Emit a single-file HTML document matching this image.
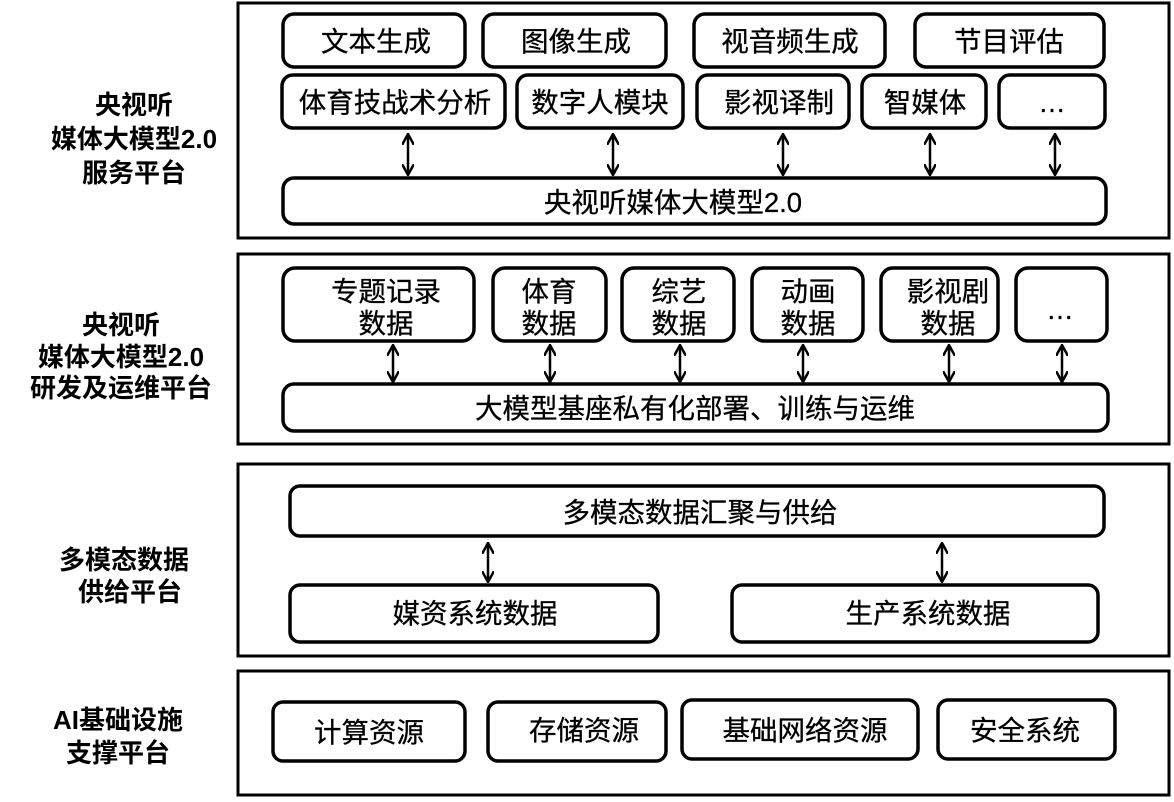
<!DOCTYPE html>
<html><head><meta charset="utf-8"><style>
html,body{margin:0;padding:0;background:#fff;}
text{font-family:"Liberation Sans","Noto Sans CJK SC",sans-serif;fill:#000;}
.b{font-weight:bold;font-size:26px;}
.t{font-size:27.5px;stroke:#000;stroke-width:0.3px;}
</style></head><body>
<svg width="1174" height="797" viewBox="0 0 1174 797" xmlns="http://www.w3.org/2000/svg">
<defs>
<marker id="a" viewBox="0 0 12 12" refX="11" refY="6" markerWidth="12" markerHeight="12" orient="auto-start-reverse" markerUnits="userSpaceOnUse">
<path d="M0,0 L11,6 L0,12" fill="none" stroke="#000" stroke-width="2.5"/>
</marker>
</defs>
<g fill="none" stroke="#000" stroke-width="3">
<rect x="238" y="3" width="931" height="235"/>
<rect x="238" y="254" width="931" height="190"/>
<rect x="238" y="464" width="931" height="192"/>
<rect x="238" y="671" width="931" height="124"/>
</g>
<g fill="#fff" stroke="#000" stroke-width="3.5">
<rect x="283" y="14" width="182" height="53" rx="11"/>
<rect x="483" y="14" width="183" height="53" rx="11"/>
<rect x="694" y="14" width="191" height="53" rx="11"/>
<rect x="915" y="14" width="189" height="53" rx="11"/>
<rect x="282" y="75" width="223" height="53" rx="11"/>
<rect x="517" y="75" width="166" height="53" rx="11"/>
<rect x="697" y="75" width="152" height="53" rx="11"/>
<rect x="862" y="75" width="124" height="53" rx="11"/>
<rect x="999" y="75" width="106" height="53" rx="11"/>
<rect x="283" y="178" width="823" height="46" rx="11"/>
<rect x="283" y="268" width="191" height="73" rx="12"/>
<rect x="493" y="268" width="113" height="73" rx="12"/>
<rect x="622" y="268" width="112" height="73" rx="12"/>
<rect x="752" y="268" width="111" height="73" rx="12"/>
<rect x="881" y="268" width="117" height="73" rx="12"/>
<rect x="1016" y="268" width="91" height="73" rx="12"/>
<rect x="283" y="384" width="825" height="47" rx="11"/>
<rect x="290" y="486" width="814" height="50" rx="10"/>
<rect x="290" y="585" width="368" height="57" rx="10"/>
<rect x="732" y="585" width="366" height="57" rx="10"/>
<rect x="273" y="702" width="192" height="59" rx="10"/>
<rect x="488" y="702" width="178" height="59" rx="10"/>
<rect x="682" y="700" width="236" height="59" rx="10"/>
<rect x="938" y="700" width="177" height="59" rx="10"/>
</g>
<g stroke="#000" stroke-width="2.5" marker-start="url(#a)" marker-end="url(#a)">
<line x1="408" y1="134" x2="408" y2="175"/>
<line x1="613" y1="134" x2="613" y2="175"/>
<line x1="783" y1="134" x2="783" y2="175"/>
<line x1="930" y1="134" x2="930" y2="175"/>
<line x1="1055" y1="134" x2="1055" y2="175"/>
<line x1="393" y1="345" x2="393" y2="382"/>
<line x1="550" y1="345" x2="550" y2="382"/>
<line x1="680" y1="345" x2="680" y2="382"/>
<line x1="803" y1="345" x2="803" y2="382"/>
<line x1="949" y1="345" x2="949" y2="382"/>
<line x1="1062" y1="345" x2="1062" y2="382"/>
<line x1="488" y1="543" x2="488" y2="582"/>
<line x1="942" y1="543" x2="942" y2="582"/>
</g>
<g class="t" text-anchor="middle">
<text x="376" y="51">文本生成</text>
<text x="576" y="51">图像生成</text>
<text x="790" y="51">视音频生成</text>
<text x="1009" y="51">节目评估</text>
<text x="395" y="112">体育技战术分析</text>
<text x="600" y="112">数字人模块</text>
<text x="779" y="112">影视译制</text>
<text x="925" y="112">智媒体</text>
<text x="1052" y="112">…</text>
<text x="673" y="212">央视听媒体大模型2.0</text>
<text x="386" y="301">专题记录</text><text x="386" y="333">数据</text>
<text x="549" y="301">体育</text><text x="549" y="333">数据</text>
<text x="679" y="301">综艺</text><text x="679" y="333">数据</text>
<text x="808" y="301">动画</text><text x="808" y="333">数据</text>
<text x="948" y="301">影视剧</text><text x="948" y="333">数据</text>
<text x="1060" y="319">…</text>
<text x="695" y="418">大模型基座私有化部署、训练与运维</text>
<text x="700" y="522">多模态数据汇聚与供给</text>
<text x="475" y="623">媒资系统数据</text>
<text x="928" y="623">生产系统数据</text>
<text x="369" y="742">计算资源</text>
<text x="584" y="740">存储资源</text>
<text x="805" y="740">基础网络资源</text>
<text x="1025" y="740">安全系统</text>
</g>
<g class="b" text-anchor="middle">
<text x="134" y="114">央视听</text>
<text x="134" y="148">媒体大模型2.0</text>
<text x="134" y="182">服务平台</text>
<text x="121" y="334">央视听</text>
<text x="121" y="366">媒体大模型2.0</text>
<text x="121" y="397">研发及运维平台</text>
<text x="124" y="569">多模态数据</text>
<text x="130" y="601">供给平台</text>
<text x="118" y="729">AI基础设施</text>
<text x="118" y="762">支撑平台</text>
</g>
</svg>
</body></html>
